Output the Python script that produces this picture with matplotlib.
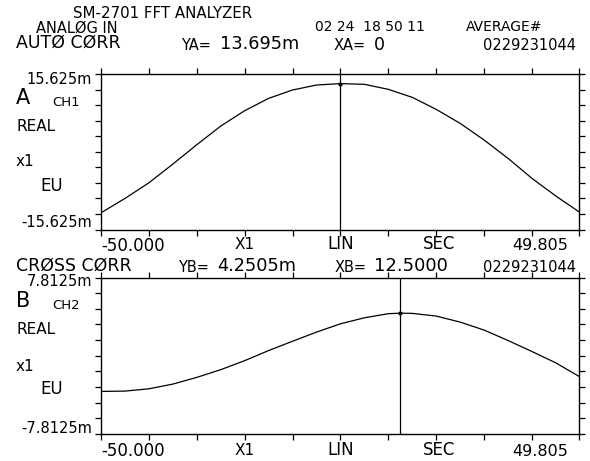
import numpy as np
import matplotlib.pyplot as plt

# lag axis in seconds, values read every 5 s off the plotter sheet
lag = [-50, -45, -40, -35, -30, -25, -20, -15, -10, -5, 0,
       5, 10, 15, 20, 25, 30, 35, 40, 45, 49.805]

# trace A: auto correlation, CH1 (mEU)
auto_corr = [-12.27, -9.39, -6.24, -2.48, 1.41, 5.16, 8.25, 10.73, 12.41, 13.41, 13.695,
             13.55, 12.54, 10.93, 8.51, 5.70, 2.35, -1.34, -5.36, -8.92, -12.07]

# trace B: cross correlation, CH2 (mEU), extra point at the cursor peak
cross_lag = [-50, -45, -40, -35, -30, -25, -20, -15, -10, -5, 0,
             5, 10, 12.5, 15, 20, 25, 30, 35, 40, 45, 49.805]
cross_corr = [-3.56, -3.53, -3.30, -2.83, -2.16, -1.39, -0.49, 0.52, 1.45, 2.36, 3.19,
              3.79, 4.20, 4.2505, 4.23, 3.96, 3.36, 2.56, 1.52, 0.42, -0.72, -2.06]

cursor_a = (0.0, 13.695)
cursor_b = (12.5, 4.2505)
full_scale_a = 15.625
full_scale_b = 7.8125

W, H = 590, 461
fig = plt.figure(figsize=(W / 100, H / 100), dpi=100)
plt.rcParams['font.family'] = ['DejaVu Sans']


def txt(x, y, s, size, ha='left'):
    # x, y in pixels from top-left of the sheet
    fig.text(x / W, 1 - y / H, s, fontsize=size, ha=ha, va='center', color='black')


def make_axes(top, bottom, x, y, cur, fs):
    ax = fig.add_axes([101 / W, 1 - bottom / H, 478 / W, (bottom - top) / H])
    ax.plot(x, y, color='black', lw=0.9)
    ax.axvline(cur[0], color='black', lw=0.9)
    ax.plot([cur[0]], [cur[1]], 'k.', ms=4)
    ax.set_xlim(-50, 49.805)
    ax.set_ylim(-fs, fs)
    ax.set_xticks(list(np.arange(-50, 50, 10)) + [49.805])
    ax.set_yticks(np.linspace(-fs, fs, 11))
    ax.tick_params(which='both', direction='out', top=True, right=True,
                   labelbottom=False, labelleft=False, length=4, width=0.9)
    for sp in ax.spines.values():
        sp.set_linewidth(1.0)
    return ax


make_axes(74, 229.5, lag, auto_corr, cursor_a, full_scale_a)
make_axes(277.5, 434, cross_lag, cross_corr, cursor_b, full_scale_b)

# header
txt(73, 13, 'SM-2701 FFT ANALYZER', 10.8)
txt(36, 28, 'ANALØG IN', 10.5)
txt(16, 43, 'AUTØ CØRR', 12.5)
txt(181, 46, 'YA=', 10.5)
txt(220, 44, '13.695m', 12.8)
txt(315, 27, '02 24  18 50 11', 10)
txt(466, 27, 'AVERAGE#', 10)
txt(334, 46, 'XA=', 10.5)
txt(374, 45, '0', 12.5)
txt(576, 46, '0229231044', 10.5, ha='right')

# trace A side labels
txt(92, 80, '15.625m', 10.5, ha='right')
txt(16, 98, 'A', 15)
txt(52, 102, 'CH1', 9.5)
txt(16, 126, 'REAL', 11)
txt(16, 161, 'x1', 11)
txt(40, 186, 'EU', 12)
txt(92, 222, '-15.625m', 10.5, ha='right')

# trace A bottom row
txt(101, 246, '-50.000', 12)
txt(235, 244, 'X1', 11)
txt(327, 244, 'LIN', 12)
txt(423, 244, 'SEC', 12)
txt(568, 246, '49.805', 11.5, ha='right')

# trace B header
txt(16, 266, 'CRØSS CØRR', 12.5)
txt(178, 268, 'YB=', 10.5)
txt(217, 266, '4.2505m', 12.8)
txt(335, 268, 'XB=', 10.5)
txt(374, 266, '12.5000', 13)
txt(576, 268, '0229231044', 10.5, ha='right')

# trace B side labels
txt(92, 282, '7.8125m', 10.5, ha='right')
txt(16, 301, 'B', 15)
txt(52, 305, 'CH2', 9.5)
txt(16, 329, 'REAL', 11)
txt(16, 366, 'x1', 11)
txt(40, 389, 'EU', 12)
txt(92, 428, '-7.8125m', 10.5, ha='right')

# trace B bottom row
txt(101, 451, '-50.000', 12)
txt(235, 450, 'X1', 11)
txt(327, 450, 'LIN', 12)
txt(423, 450, 'SEC', 12)
txt(568, 451, '49.805', 11.5, ha='right')

fig.savefig('out.png', dpi=100, facecolor='white')
